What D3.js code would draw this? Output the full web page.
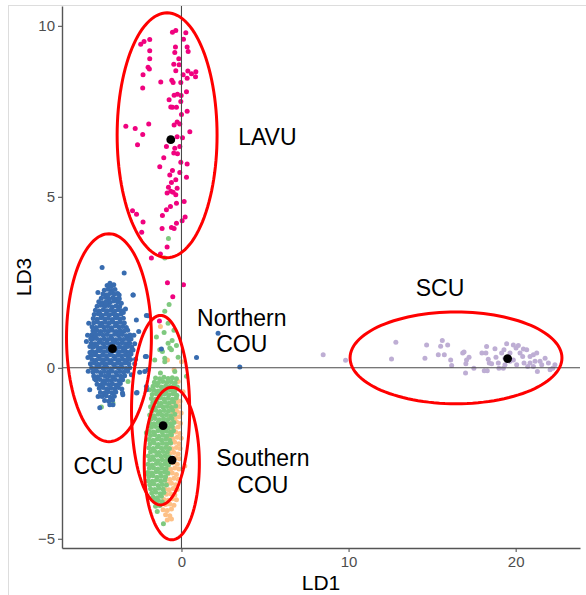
<!DOCTYPE html>
<html>
<head>
<meta charset="utf-8">
<script src="https://cdn.jsdelivr.net/npm/d3@7"></script>
<style>
  body { margin: 0; background: #ffffff; }
  svg { display: block; }
</style>
</head>
<body>
<svg id="chart" width="586" height="595"></svg>
<script>
// ---- Discriminant scores (LD1, LD3) per population ----
const groups = ["Southern COU", "Northern COU", "CCU", "LAVU", "SCU"];
const groupColors = ["#FDC086", "#7FC97F", "#386CB0", "#F0027F", "#BEAED4"];

const scouPts = [
  [-1.26,1.21],[-0.84,0.23],[-0.44,-0.06],[0.00,0.18],[-0.60,-0.59],[-0.20,-0.40],[0.10,-0.70],[-0.30,-0.90],
  [-0.55,-1.00],[-0.30,-1.02],[-0.08,-0.98],
  [-0.60,-1.15],[-0.35,-1.17],[-0.12,-1.13],
  [-0.50,-1.30],[-0.25,-1.28],[-0.02,-1.32],
  [-0.65,-1.45],[-0.40,-1.47],[-0.15,-1.43],
  [-0.55,-1.60],[-0.30,-1.58],[-0.06,-1.62],
  [-0.70,-1.75],[-0.45,-1.77],[-0.20,-1.73],
  [-0.60,-1.90],[-0.35,-1.88],[-0.10,-1.92],
  [-0.75,-2.05],[-0.50,-2.07],[-0.25,-2.03],[-0.02,-2.06],
  [-0.65,-2.20],[-0.40,-2.18],[-0.15,-2.22],
  [-0.80,-2.35],[-0.55,-2.37],[-0.30,-2.33],[-0.08,-2.36],
  [-0.70,-2.50],[-0.45,-2.48],[-0.20,-2.52],
  [-0.85,-2.65],[-0.60,-2.67],[-0.35,-2.63],[-0.12,-2.66],
  [-0.75,-2.80],[-0.50,-2.78],[-0.25,-2.82],[0.20,-2.87],
  [-0.90,-2.95],[-0.65,-2.97],[-0.40,-2.93],[-0.15,-2.96],
  [-0.80,-3.10],[-0.55,-3.08],[-0.30,-3.12],
  [-0.95,-3.25],[-0.70,-3.27],[-0.45,-3.23],[-0.20,-3.26],
  [-0.85,-3.40],[-0.60,-3.38],[-0.35,-3.42],
  [-1.00,-3.55],[-0.75,-3.57],[-0.50,-3.53],[-0.25,-3.56],
  [-0.90,-3.70],[-0.65,-3.68],[-0.40,-3.72],
  [-1.05,-3.85],[-0.80,-3.87],[-0.55,-3.83],[-0.30,-3.86],
  [-0.95,-4.00],[-0.70,-3.98],[-0.45,-4.02],
  [-1.10,-4.15],[-0.85,-4.17],[-0.60,-4.13],
  [-0.95,-4.30],[-0.70,-4.33],
  [-0.85,-4.45],[-0.60,-4.42]
];

const ncouPts = [
  [-0.74,1.85],[-1.00,1.65],[-1.04,1.03],[-0.56,0.80],[-1.30,0.53],[-0.70,0.58],[-0.20,0.31],[-1.00,0.28],
  [-1.26,-0.15],[-0.40,-0.11],[0.30,-0.25],[-1.14,0.48],[-0.80,1.30],[-0.45,1.10],[-1.50,0.90],[-0.30,0.65],
  [-0.80,0.72],[-0.60,0.53],[-1.60,0.23],[-1.00,0.18],[-0.78,3.78],[-1.00,3.21],
  [-4.79,-1.15],[-4.10,-1.03],[-3.20,-0.40],[-1.90,-0.64],[-2.10,-1.90],[-2.15,-3.10],
  [-1.55,-0.30],[-1.30,-0.32],[-1.05,-0.28],[-0.80,-0.31],[-0.55,-0.29],[-0.30,-0.32],
  [-1.62,-0.42],[-1.38,-0.44],[-1.12,-0.40],[-0.88,-0.43],[-0.62,-0.41],[-0.38,-0.44],
  [-1.70,-0.54],[-1.45,-0.52],[-1.20,-0.56],[-0.95,-0.53],[-0.70,-0.55],[-0.45,-0.52],[-0.25,-0.56],
  [-1.65,-0.66],[-1.40,-0.68],[-1.15,-0.64],[-0.90,-0.67],[-0.65,-0.65],[-0.40,-0.68],
  [-1.75,-0.78],[-1.50,-0.76],[-1.25,-0.80],[-1.00,-0.77],[-0.75,-0.79],[-0.50,-0.76],[-0.28,-0.80],
  [-1.80,-0.90],[-1.55,-0.92],[-1.30,-0.88],[-1.05,-0.91],[-0.80,-0.89],[-0.55,-0.92],[-0.32,-0.88],
  [-1.72,-1.02],[-1.47,-1.00],[-1.22,-1.04],[-0.97,-1.01],[-0.72,-1.03],[-0.47,-1.00],
  [-1.85,-1.14],[-1.60,-1.16],[-1.35,-1.12],[-1.10,-1.15],[-0.85,-1.13],[-0.60,-1.16],[-0.35,-1.12],
  [-1.78,-1.26],[-1.53,-1.24],[-1.28,-1.28],[-1.03,-1.25],[-0.78,-1.27],[-0.53,-1.24],
  [-1.90,-1.38],[-1.65,-1.40],[-1.40,-1.36],[-1.15,-1.39],[-0.90,-1.37],[-0.65,-1.40],[-0.40,-1.36],
  [-1.82,-1.50],[-1.57,-1.48],[-1.32,-1.52],[-1.07,-1.49],[-0.82,-1.51],[-0.57,-1.48],
  [-1.90,-1.62],[-1.65,-1.64],[-1.40,-1.60],[-1.15,-1.63],[-0.90,-1.61],[-0.65,-1.64],[-0.45,-1.60],
  [-1.80,-1.74],[-1.55,-1.72],[-1.30,-1.76],[-1.05,-1.73],[-0.80,-1.75],[-0.55,-1.72],
  [-1.92,-1.86],[-1.67,-1.88],[-1.42,-1.84],[-1.17,-1.87],[-0.92,-1.85],[-0.67,-1.88],[-0.48,-1.84],
  [-1.85,-1.98],[-1.60,-1.96],[-1.35,-2.00],[-1.10,-1.97],[-0.85,-1.99],[-0.60,-1.96],
  [-1.95,-2.10],[-1.70,-2.12],[-1.45,-2.08],[-1.20,-2.11],[-0.95,-2.09],[-0.70,-2.12],
  [-1.88,-2.22],[-1.63,-2.20],[-1.38,-2.24],[-1.13,-2.21],[-0.88,-2.23],[-0.65,-2.20],
  [-1.95,-2.34],[-1.70,-2.36],[-1.45,-2.32],[-1.20,-2.35],[-0.95,-2.33],[-0.72,-2.36],
  [-1.85,-2.46],[-1.60,-2.44],[-1.35,-2.48],[-1.10,-2.45],[-0.85,-2.47],
  [-1.98,-2.58],[-1.73,-2.60],[-1.48,-2.56],[-1.23,-2.59],[-0.98,-2.57],[-0.75,-2.60],
  [-1.90,-2.70],[-1.65,-2.68],[-1.40,-2.72],[-1.15,-2.69],[-0.90,-2.71],
  [-2.00,-2.82],[-1.75,-2.84],[-1.50,-2.80],[-1.25,-2.83],[-1.00,-2.81],[-0.78,-2.84],
  [-1.92,-2.94],[-1.67,-2.92],[-1.42,-2.96],[-1.17,-2.93],[-0.92,-2.95],
  [-2.02,-3.06],[-1.77,-3.08],[-1.52,-3.04],[-1.27,-3.07],[-1.02,-3.05],[-0.82,-3.08],
  [-1.95,-3.18],[-1.70,-3.16],[-1.45,-3.20],[-1.20,-3.17],[-0.95,-3.19],
  [-2.00,-3.30],[-1.75,-3.32],[-1.50,-3.28],[-1.25,-3.31],[-1.00,-3.29],
  [-1.90,-3.42],[-1.65,-3.40],[-1.40,-3.44],[-1.15,-3.41],[-0.90,-3.43],
  [-1.85,-3.54],[-1.60,-3.56],[-1.35,-3.52],[-1.10,-3.55],
  [-1.78,-3.66],[-1.53,-3.64],[-1.28,-3.68],[-1.05,-3.65],
  [-1.70,-3.78],[-1.45,-3.80],[-1.20,-3.76],
  [-1.62,-3.90],[-1.38,-3.88],[-1.15,-3.92],
  [-1.55,-4.05],[-1.30,-4.03],
  [-1.45,-4.20],
  [-1.08,-4.56]
];

const ccuPts = [
  [-4.45,2.41],[-4.20,2.38],[-4.05,2.43],
  [-4.62,2.27],[-4.38,2.30],[-4.15,2.25],[-3.98,2.29],
  [-4.70,2.16],[-4.48,2.13],[-4.25,2.18],[-4.02,2.15],[-3.82,2.17],
  [-4.80,2.03],[-4.55,2.06],[-4.33,2.02],[-4.10,2.05],[-3.88,2.01],
  [-4.95,1.93],[-4.72,1.90],[-4.50,1.94],[-4.27,1.91],[-4.05,1.95],[-3.80,1.92],[-3.60,1.89],
  [-5.05,1.80],[-4.82,1.83],[-4.60,1.79],[-4.37,1.82],[-4.14,1.78],[-3.92,1.81],[-3.70,1.79],
  [-5.15,1.68],[-4.92,1.66],[-4.68,1.70],[-4.45,1.67],[-4.22,1.69],[-4.00,1.65],[-3.78,1.70],[-3.58,1.67],
  [-5.22,1.56],[-4.98,1.58],[-4.75,1.54],[-4.52,1.57],[-4.30,1.55],[-4.08,1.58],[-3.85,1.54],[-3.62,1.57],
  [-5.28,1.44],[-5.05,1.42],[-4.82,1.46],[-4.60,1.43],[-4.38,1.45],[-4.15,1.41],[-3.92,1.46],[-3.70,1.43],[-3.48,1.45],
  [-5.25,1.32],[-5.02,1.34],[-4.78,1.30],[-4.55,1.33],[-4.32,1.31],[-4.10,1.34],[-3.88,1.30],[-3.65,1.33],[-3.42,1.31],
  [-5.35,1.20],[-5.12,1.18],[-4.88,1.22],[-4.65,1.19],[-4.42,1.21],[-4.20,1.17],[-3.97,1.22],[-3.75,1.19],[-3.52,1.21],[-3.30,1.18],
  [-5.30,1.08],[-5.06,1.10],[-4.83,1.06],[-4.60,1.09],[-4.37,1.07],[-4.14,1.10],[-3.91,1.06],[-3.68,1.09],[-3.45,1.07],[-3.22,1.10],
  [-5.38,0.96],[-5.15,0.94],[-4.92,0.98],[-4.68,0.95],[-4.45,0.97],[-4.22,0.93],[-4.00,0.98],[-3.77,0.95],[-3.54,0.97],[-3.30,0.94],[-3.08,0.96],
  [-5.32,0.84],[-5.08,0.86],[-4.85,0.82],[-4.62,0.85],[-4.40,0.83],[-4.17,0.86],[-3.94,0.82],[-3.70,0.85],[-3.47,0.83],[-3.24,0.86],[-3.02,0.84],
  [-5.40,0.72],[-5.17,0.70],[-4.94,0.74],[-4.70,0.71],[-4.47,0.73],[-4.24,0.69],[-4.01,0.74],[-3.78,0.71],[-3.55,0.73],[-3.32,0.70],[-3.10,0.72],
  [-5.30,0.60],[-5.06,0.62],[-4.83,0.58],[-4.60,0.61],[-4.37,0.59],[-4.14,0.62],[-3.91,0.58],[-3.68,0.61],[-3.45,0.59],[-3.22,0.62],[-2.98,0.60],
  [-5.36,0.48],[-5.12,0.46],[-4.89,0.50],[-4.66,0.47],[-4.43,0.49],[-4.20,0.45],[-3.97,0.50],[-3.74,0.47],[-3.51,0.49],[-3.28,0.46],[-3.05,0.48],[-2.90,0.52],
  [-5.42,0.36],[-5.20,0.38],[-4.97,0.34],[-4.74,0.37],[-4.51,0.35],[-4.28,0.38],[-4.05,0.34],[-3.82,0.37],[-3.59,0.35],[-3.36,0.38],[-3.12,0.36],
  [-5.35,0.24],[-5.12,0.22],[-4.89,0.26],[-4.66,0.23],[-4.43,0.25],[-4.20,0.21],[-3.97,0.26],[-3.74,0.23],[-3.51,0.25],[-3.28,0.22],[-3.05,0.24],
  [-5.45,0.12],[-5.22,0.14],[-4.99,0.10],[-4.76,0.13],[-4.53,0.11],[-4.30,0.14],[-4.07,0.10],[-3.84,0.13],[-3.61,0.11],[-3.38,0.14],[-3.15,0.12],
  [-5.38,0.00],[-5.15,-0.02],[-4.92,0.02],[-4.69,-0.01],[-4.46,0.01],[-4.23,-0.03],[-4.00,0.02],[-3.77,-0.01],[-3.54,0.01],[-3.31,-0.02],[-3.10,0.00],
  [-5.30,-0.12],[-5.07,-0.10],[-4.84,-0.14],[-4.61,-0.11],[-4.38,-0.13],[-4.15,-0.10],[-3.92,-0.14],[-3.69,-0.11],[-3.46,-0.13],[-3.22,-0.10],
  [-5.25,-0.24],[-5.02,-0.26],[-4.79,-0.22],[-4.56,-0.25],[-4.33,-0.23],[-4.10,-0.26],[-3.87,-0.22],[-3.64,-0.25],[-3.40,-0.23],
  [-5.12,-0.36],[-4.89,-0.34],[-4.66,-0.38],[-4.43,-0.35],[-4.20,-0.37],[-3.97,-0.34],[-3.74,-0.38],[-3.52,-0.35],
  [-5.05,-0.48],[-4.82,-0.50],[-4.59,-0.46],[-4.36,-0.49],[-4.13,-0.47],[-3.90,-0.50],[-3.66,-0.46],
  [-4.92,-0.60],[-4.69,-0.58],[-4.46,-0.62],[-4.23,-0.59],[-4.00,-0.61],[-3.77,-0.58],
  [-4.85,-0.72],[-4.62,-0.74],[-4.39,-0.70],[-4.16,-0.73],[-3.93,-0.71],
  [-4.75,-0.84],[-4.50,-0.82],[-4.26,-0.86],[-4.02,-0.83],
  [-4.60,-0.96],[-4.35,-0.98],
  [-5.18,1.02],[-4.51,1.89],[-3.66,1.00],[-3.40,0.55],[-4.97,0.53],[-5.48,0.45],[-5.05,0.07],[-4.35,-0.18],
  [-3.58,-0.30],[-3.20,0.30],[-4.11,0.80],[-4.79,1.25],[-3.95,1.51],[-4.56,0.05],[-3.85,-0.55],[-4.70,-0.44],
  [-5.20,-0.32],[-3.15,0.82],[-3.02,0.40],[-3.48,1.62],[-4.88,1.58],[-5.43,0.85],[-4.28,2.47],[-3.72,2.02],
  [-5.00,2.20],[-3.35,1.72],[-5.48,0.62],[-4.47,-0.65],[-3.57,-0.62],[-4.12,-0.94],[-2.85,0.95],[-2.75,0.25],
  [-3.00,-0.20],[-5.58,-0.10],[-5.62,0.95],
  [-4.75,2.93],[-3.43,2.77],[-2.89,2.13],[-3.73,2.13],[-4.40,2.13],[-2.90,2.13],[-2.10,1.53],[-2.00,1.52],
  [-2.56,1.06],[-1.20,0.55],[0.90,0.30],[2.19,1.01],[3.49,0.02],[-2.80,0.12],[-2.16,0.33],[-2.50,-0.13],
  [-2.69,-0.74],[-3.53,-0.74],[-4.10,-1.08],[-5.69,0.77],[-2.10,0.33],[-2.20,-0.11],[-2.66,-0.72],[-2.10,-0.55],
  [-2.00,-0.06],[-5.49,-0.64],[-4.99,-0.84],[-4.29,-1.08],[-4.89,-1.17],[-3.51,-0.79],[-2.10,-0.64],[-5.60,0.30],
  [-5.55,1.30],[-2.80,0.70],[-2.70,1.40]
];

const lavuPts = [
  [-0.54,9.81],[-0.34,9.86],[0.26,9.80],[-2.24,9.54],[-2.44,9.46],[-1.90,9.60],[0.12,9.61],[-0.36,9.38],
  [0.34,9.38],[-1.90,9.27],[-0.40,9.22],[0.40,9.25],[-1.90,9.04],[-0.16,9.04],[-0.46,8.88],[-0.14,8.86],
  [-2.30,8.57],[-1.92,8.74],[-2.00,8.79],[-0.34,8.69],[0.38,8.68],[0.86,8.66],[0.60,8.60],[0.84,8.51],
  [0.34,8.47],[0.10,8.57],[-0.58,8.41],[-0.50,8.34],[-1.24,8.36],[-2.32,8.18],[-0.04,8.34],[0.30,8.07],
  [-0.24,8.00],[-0.44,7.97],[-0.02,7.96],[-0.74,7.84],[-0.04,7.79],[-0.54,7.62],[-0.30,7.62],[-0.64,7.63],
  [0.34,7.50],[0.00,7.41],[-0.26,7.19],[-0.10,7.13],[-0.44,7.10],[-3.33,7.06],[-2.77,7.00],[-1.96,7.13],
  [-2.32,6.82],[0.50,6.90],[-0.26,6.76],[0.06,6.73],[-2.63,6.52],[-0.10,6.47],[-0.40,6.42],[-0.90,6.47],
  [-0.46,6.28],[-0.24,6.26],[-1.06,6.14],[-0.04,6.01],[0.34,5.96],[-1.30,5.88],[-0.54,5.77],[-0.10,5.71],
  [-0.70,5.64],[0.30,5.57],[-0.34,5.50],[-0.60,5.42],[-0.78,5.28],[-0.26,5.25],[-0.64,5.16],[-0.34,5.06],
  [-0.50,5.13],[-0.86,5.11],[0.16,4.86],[-0.30,4.81],[-2.93,4.59],[-2.69,4.49],[-0.66,4.72],[-0.90,4.62],
  [-1.14,4.45],[0.22,4.41],[0.04,4.30],[-2.30,4.26],[-0.30,4.23],[-0.60,4.10],[-0.44,4.07],[-1.16,4.07],
  [-2.38,3.96],[-0.86,3.53],[-1.26,3.33],[-1.80,3.21],
  [-1.32,1.37],[-0.84,2.49],[0.12,2.43],[-0.52,2.08]
];

const scuPts = [
  [8.48,0.38],[9.82,0.22],[12.83,0.75],[12.57,0.26],[14.67,0.67],[14.57,0.28],[15.61,0.80],[15.93,0.67],
  [15.51,0.63],[15.37,0.38],[15.73,0.38],[16.11,0.23],[16.17,0.07],[16.83,0.43],[16.91,0.46],[17.21,0.31],
  [17.06,0.23],[17.02,0.12],[17.00,-0.15],[17.50,-0.01],[17.98,0.43],[18.26,0.62],[18.12,-0.09],[18.30,-0.09],
  [18.36,0.25],[18.42,0.14],[18.76,0.56],[19.00,-0.01],[19.26,-0.01],[19.16,0.43],[19.30,0.53],[19.46,0.70],
  [19.66,0.43],[19.86,0.67],[20.02,0.58],[20.16,0.65],[20.26,0.43],[20.42,0.33],[20.50,0.14],[20.66,0.53],
  [20.86,0.14],[21.06,0.38],[21.26,0.43],[21.30,-0.11],[21.46,0.19],[21.76,0.28],[21.96,0.14],[22.22,-0.01],
  [22.35,0.09],[18.82,0.31],[19.86,0.23],[20.06,0.09],[20.72,0.04],[21.06,0.04],[19.36,0.28],[18.96,0.14],
  [18.56,0.12],[18.22,0.43],[20.46,0.55],[20.86,0.33],[21.16,0.19],[21.56,0.09],[22.06,-0.06],[19.36,0.09],
  [19.66,0.19]
];

// group means (black dots)
const centroidX = [-0.56, -1.10, -4.13, -0.64, 19.52];
const centroidY = [-2.70, -1.69, 0.56, 6.67, 0.27];

// confidence ellipses: centre and semi-axes in LD units
const ellipseCx = [-0.58, -1.25, -4.34, -0.86, 16.43];
const ellipseCy = [-2.80, -1.24, 0.88, 6.80, 0.29];
const ellipseRx = [1.65, 1.74, 2.54, 2.99, 6.34];
const ellipseRy = [2.23, 2.77, 3.04, 3.58, 1.34];

// group name annotations (centre of each text block, LD units)
const labelLines = [["Southern", "COU"], ["Northern", "COU"], ["CCU"], ["LAVU"], ["SCU"]];
const labelX = [4.87, 3.61, -4.97, 5.14, 15.47];
const labelY = [-3.03, 1.08, -2.87, 6.75, 2.34];

const xTicks = [0, 10, 20];
const yTicks = [-5, 0, 5, 10];
const xDomain = [-7.15, 23.85];
const yDomain = [-5.27, 10.58];
const xTitle = "LD1";
const yTitle = "LD3";

// ---- drawing ----
const svg = d3.select("#chart");
const W = 586, H = 595;
const panel = { left: 62, right: 580, top: 6, bottom: 548 };
const baseFont = "'Liberation Sans', Arial, Helvetica, sans-serif";

const x = d3.scaleLinear().domain(xDomain).range([panel.left, panel.right]);
const y = d3.scaleLinear().domain(yDomain).range([panel.bottom, panel.top]);

svg.append("rect").attr("width", W).attr("height", H).attr("fill", "#ffffff");
svg.append("rect")
  .attr("x", 8.5).attr("y", 5.5).attr("width", 640).attr("height", 640)
  .attr("fill", "none").attr("stroke", "#dddddd").attr("stroke-width", 1);

const seriesPts = [scouPts, ncouPts, ccuPts, lavuPts, scuPts];
const drawOrder = [0, 1, 2, 3, 4];

const pointLayer = svg.append("g");
drawOrder.forEach(gi => {
  pointLayer.append("g")
    .selectAll("circle")
    .data(seriesPts[gi])
    .join("circle")
    .attr("cx", d => x(d[0]))
    .attr("cy", d => y(d[1]))
    .attr("r", 2.5)
    .attr("fill", groupColors[gi]);
});

// reference lines through the origin
svg.append("line")
  .attr("x1", x(xDomain[0])).attr("x2", x(xDomain[1]))
  .attr("y1", y(0)).attr("y2", y(0))
  .attr("stroke", "#4a4a4a").attr("stroke-width", 1.1);
svg.append("line")
  .attr("x1", x(0)).attr("x2", x(0))
  .attr("y1", y(yDomain[0])).attr("y2", y(yDomain[1]))
  .attr("stroke", "#4a4a4a").attr("stroke-width", 1.1);

// ellipses
const ellipseLine = d3.line().x(d => x(d[0])).y(d => y(d[1]));
const steps = d3.range(0, 361, 3).map(a => a * Math.PI / 180);
groups.forEach((g, i) => {
  const ring = steps.map(t => [
    ellipseCx[i] + ellipseRx[i] * Math.cos(t),
    ellipseCy[i] + ellipseRy[i] * Math.sin(t)
  ]);
  svg.append("path")
    .attr("d", ellipseLine(ring) + "Z")
    .attr("fill", "none")
    .attr("stroke", "#ff0000")
    .attr("stroke-width", 3);
});

// centroids
svg.append("g")
  .selectAll("circle")
  .data(groups)
  .join("circle")
  .attr("cx", (d, i) => x(centroidX[i]))
  .attr("cy", (d, i) => y(centroidY[i]))
  .attr("r", 4.4)
  .attr("fill", "#000000");

// group labels
const lineH = 26.5;
groups.forEach((g, i) => {
  const lines = labelLines[i];
  const cx = x(labelX[i]);
  const cy = y(labelY[i]);
  const firstBase = cy - (lines.length - 1) * lineH / 2 + 8.3;
  const t = svg.append("text")
    .attr("text-anchor", "middle")
    .attr("font-family", baseFont)
    .attr("font-size", 23)
    .attr("fill", "#000000");
  lines.forEach((ln, k) => {
    t.append("tspan").attr("x", cx).attr("y", firstBase + k * lineH).text(ln);
  });
});

// axes
const xAxis = d3.axisBottom(x).tickValues(xTicks).tickSize(4).tickPadding(4).tickSizeOuter(0);
const yAxis = d3.axisLeft(y).tickValues(yTicks).tickSize(4).tickPadding(3).tickSizeOuter(0);

const gx = svg.append("g").attr("transform", `translate(0,${panel.bottom})`).call(xAxis);
const gy = svg.append("g").attr("transform", `translate(${panel.left},0)`).call(yAxis);
[gx, gy].forEach(g => {
  g.select(".domain").attr("stroke", "#555555").attr("stroke-width", 1.4);
  g.selectAll(".tick line").attr("stroke", "#555555").attr("stroke-width", 1.1);
  g.selectAll(".tick text")
    .attr("font-family", baseFont)
    .attr("font-size", 15)
    .attr("fill", "#4d4d4d");
});
gy.selectAll(".tick text").text(d => d3.format("d")(d));

// axis titles
svg.append("text")
  .attr("x", (panel.left + panel.right) / 2)
  .attr("y", 590)
  .attr("text-anchor", "middle")
  .attr("font-family", baseFont)
  .attr("font-size", 21)
  .attr("fill", "#000000")
  .text(xTitle);
svg.append("text")
  .attr("transform", `translate(31,${(panel.top + panel.bottom) / 2}) rotate(-90)`)
  .attr("text-anchor", "middle")
  .attr("font-family", baseFont)
  .attr("font-size", 21)
  .attr("fill", "#000000")
  .text(yTitle);
</script>
</body>
</html>
